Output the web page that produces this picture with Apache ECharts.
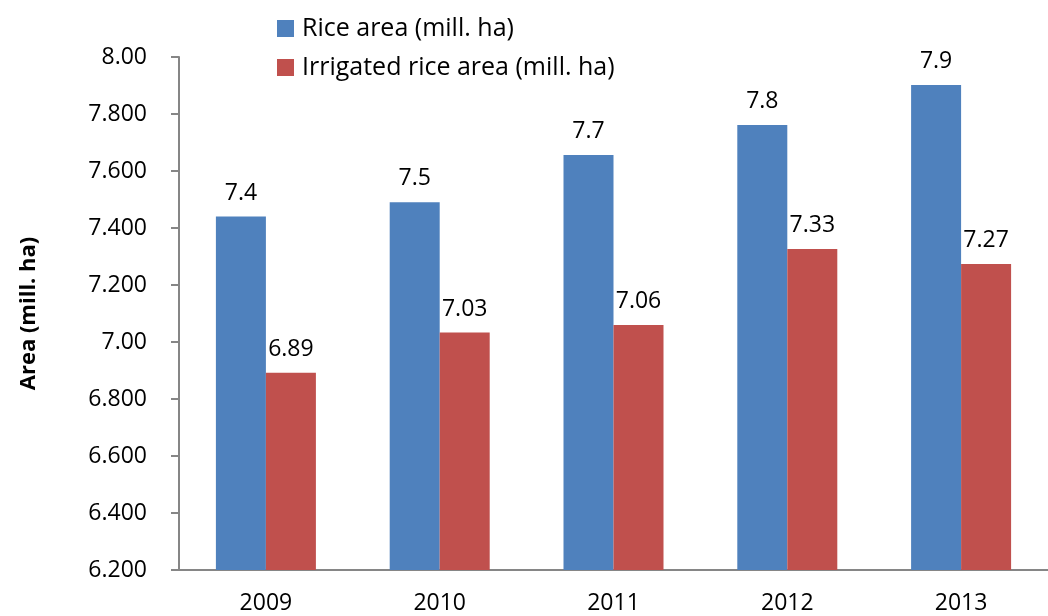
<!DOCTYPE html>
<html>
<head>
<meta charset="utf-8">
<script src="https://cdn.jsdelivr.net/npm/echarts@6/dist/echarts.min.js"></script>
<style>
  html, body { margin: 0; padding: 0; background: #fff; }
  #chart { width: 1048px; height: 616px; }
</style>
</head>
<body>
<div id="chart"></div>
<script>
// values
const years = ['2009', '2010', '2011', '2012', '2013'];
const riceArea = [7.44, 7.49, 7.656, 7.761, 7.902];
const irrigatedArea = [6.892, 7.033, 7.06, 7.326, 7.274];
const riceLabels = ['7.4', '7.5', '7.7', '7.8', '7.9'];
const irrigatedLabels = ['6.89', '7.03', '7.06', '7.33', '7.27'];
const yTickLabels = ['6.200', '6.400', '6.600', '6.800', '7.00', '7.200', '7.400', '7.600', '7.800', '8.00'];

const font = '"Open Sans", "Noto Sans", sans-serif';
const axisGrey = '#868686';

let myChart = echarts.init(document.getElementById('chart'));

let option = {
    animation: false,
    textStyle: { fontFamily: font },
    legend: {
        orient: 'vertical',
        left: 272,
        top: 11,
        icon: 'rect',
        itemWidth: 17,
        itemHeight: 17,
        itemGap: 14,
        textStyle: { fontSize: 25, color: '#000', fontFamily: font, padding: [0, 0, 0, 3] },
        data: ['Rice area (mill. ha)', 'Irrigated rice area (mill. ha)']
    },
    grid: { left: 179, top: 57, width: 875, height: 513, containLabel: false },
    xAxis: {
        type: 'category',
        data: years,
        axisLine: { lineStyle: { color: axisGrey, width: 2 } },
        axisTick: { show: false },
        axisLabel: { margin: 22, fontSize: 23, color: '#000', fontFamily: font }
    },
    yAxis: {
        type: 'value',
        min: 6.2,
        max: 8.0,
        interval: 0.2,
        name: 'Area (mill. ha)',
        nameLocation: 'middle',
        nameGap: 139,
        nameTextStyle: { fontSize: 22, fontWeight: 'bold', color: '#000', fontFamily: font },
        splitLine: { show: false },
        axisLine: { show: true, lineStyle: { color: axisGrey, width: 2 } },
        axisTick: { show: true, length: 8, lineStyle: { color: axisGrey, width: 2 } },
        axisLabel: {
            margin: 32,
            fontSize: 23,
            color: '#000',
            fontFamily: font,
            formatter: function (v, i) { return yTickLabels[i]; }
        }
    },
    series: [
        {
            name: 'Rice area (mill. ha)',
            type: 'bar',
            barWidth: 50,
            barGap: '0%',
            data: riceArea,
            itemStyle: { color: '#4F81BD' },
            label: {
                show: true, position: 'top', distance: 12,
                fontSize: 23, color: '#000', fontFamily: font,
                formatter: function (p) { return riceLabels[p.dataIndex]; }
            }
        },
        {
            name: 'Irrigated rice area (mill. ha)',
            type: 'bar',
            barWidth: 50,
            data: irrigatedArea,
            itemStyle: { color: '#C0504D' },
            label: {
                show: true, position: 'top', distance: 12,
                fontSize: 23, color: '#000', fontFamily: font,
                formatter: function (p) { return irrigatedLabels[p.dataIndex]; }
            }
        }
    ]
};

myChart.setOption(option);
</script>
</body>
</html>
